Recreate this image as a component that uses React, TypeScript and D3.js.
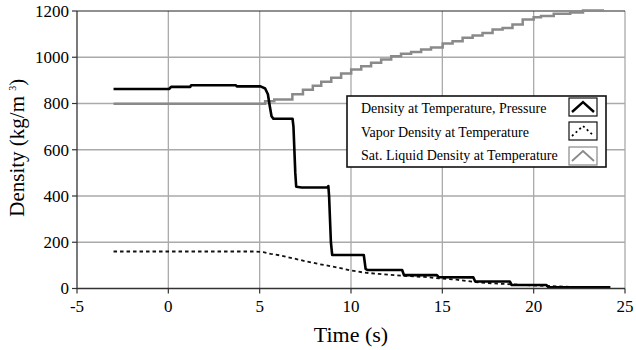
import React from "react";
import * as d3 from "d3";

const xTicks = [-5, 0, 5, 10, 15, 20, 25];
const yTicks = [0, 200, 400, 600, 800, 1000, 1200];

const densityT = [-3, 0.05, 0.15, 1.2, 1.25, 3.7, 3.75, 5.05, 5.3, 5.45, 5.55, 5.65, 5.75, 6.8, 6.85, 6.95, 7.0, 7.3, 8.7, 8.76, 8.8, 8.9, 8.97, 10.7, 10.8, 10.9, 12.8, 12.9, 14.7, 14.8, 16.7, 16.8, 18.7, 18.8, 20.7, 20.8, 24.2];
const densityV = [863, 863, 872, 872, 879, 879, 874, 874, 865, 840, 790, 745, 734, 734, 700, 500, 440, 437, 437, 443, 400, 200, 145, 145, 85, 80, 80, 58, 58, 49, 48, 30, 30, 15, 15, 6, 5];

const vaporT = [-3, 4.8, 5.2, 5.6, 6.2, 6.8, 7.5, 8.3, 9.0, 10.0, 10.7, 11.5, 12.85, 14.0, 14.8, 15.8, 16.8, 17.8, 18.8, 19.8, 20.8, 22.0, 22.8, 24.2];
const vaporV = [160, 160, 157, 150, 142, 131, 118, 105, 95, 78, 69, 63, 55, 50, 44, 38, 28, 22, 18, 14, 11, 7, 5, 5];

const satT = [-3, 5.1, 5.3, 5.8, 6.79, 7.37, 7.91, 8.37, 8.92, 9.46, 10.01, 10.56, 11.1, 11.65, 12.2, 12.74, 13.29, 13.84, 14.38, 15.02, 15.56, 16.11, 16.66, 17.2, 17.75, 18.3, 18.84, 19.4, 20.0, 20.4, 21.1, 22.0, 22.7, 23.85];
const satV = [799, 799, 810, 817, 840, 860, 877, 894, 911, 930, 947, 961, 976, 990, 1004, 1015, 1023, 1033, 1042, 1059, 1069, 1084, 1094, 1105, 1120, 1127, 1142, 1163, 1173, 1178, 1188, 1194, 1202, 1202];

const legendLabels = [
  "Density at Temperature, Pressure",
  "Vapor Density at Temperature",
  "Sat. Liquid Density at Temperature",
];

const FONT = "'Liberation Serif', 'Times New Roman', serif";

export default function App() {
  const W = 636, H = 350;
  const x = d3.scaleLinear().domain([-5, 25]).range([77, 625]);
  const y = d3.scaleLinear().domain([0, 1200]).range([288.5, 11]);

  const toPts = (ts: number[], vs: number[]) => ts.map((t, i) => [t, vs[i]] as [number, number]);
  const line = d3.line<[number, number]>().x(d => x(d[0])).y(d => y(d[1]));
  const stepLine = d3.line<[number, number]>().x(d => x(d[0])).y(d => y(d[1])).curve(d3.curveStepAfter);

  const legendX = 347, legendY = 96, legendW = 259, legendH = 71;
  const rowY = [113, 137, 160];
  const iconY = [98, 122, 147];

  return (
    <svg width={W} height={H} style={{ position: "absolute", left: 0, top: 0, background: "#fff" }} fontFamily={FONT}>
      <rect x={0} y={0} width={W} height={H} fill="#fff" />
      {/* grid */}
      {yTicks.filter(v => v > 0 && v < 1200).map(v => (
        <line key={"gy" + v} x1={x(-5)} x2={x(25)} y1={y(v)} y2={y(v)} stroke="#aaa" strokeWidth={1.3} />
      ))}
      {xTicks.filter(v => v > -5).map(v => (
        <line key={"gx" + v} x1={x(v)} x2={x(v)} y1={y(0)} y2={y(1200)} stroke="#aaa" strokeWidth={1.3} />
      ))}
      {/* top border */}
      <line x1={x(-5)} x2={x(25)} y1={y(1200)} y2={y(1200)} stroke="#222" strokeWidth={1.2} />
      {/* series */}
      <path d={stepLine(toPts(satT, satV)) || ""} fill="none" stroke="#8a8a8a" strokeWidth={2.5} />
      <path d={line(toPts(vaporT, vaporV)) || ""} fill="none" stroke="#111" strokeWidth={1.8} strokeDasharray="3.5,3" />
      <path d={line(toPts(densityT, densityV)) || ""} fill="none" stroke="#000" strokeWidth={2.6} strokeLinejoin="round" />
      {/* axes */}
      <line x1={x(-5)} x2={x(-5)} y1={y(0)} y2={y(1200)} stroke="#333" strokeWidth={1.3} />
      <line x1={x(-5)} x2={x(25)} y1={y(0)} y2={y(0)} stroke="#333" strokeWidth={1.3} />
      {yTicks.map(v => (
        <g key={"yt" + v}>
          <line x1={x(-5) - 5} x2={x(-5)} y1={y(v)} y2={y(v)} stroke="#333" strokeWidth={1.2} />
          <text x={x(-5) - 8} y={y(v)} dy="0.35em" textAnchor="end" fontSize={17} fill="#000">{v}</text>
        </g>
      ))}
      {xTicks.map(v => (
        <g key={"xt" + v}>
          <line x1={x(v)} x2={x(v)} y1={y(0)} y2={y(0) + 5} stroke="#333" strokeWidth={1.2} />
          <text x={x(v)} y={312} textAnchor="middle" fontSize={17} fill="#000">{v}</text>
        </g>
      ))}
      <text x={351} y={342} textAnchor="middle" fontSize={22} fill="#000">Time (s)</text>
      <text transform={`translate(24,${(y(0) + y(1200)) / 2 - 2}) rotate(-90)`} textAnchor="middle" fontSize={21} fill="#000">
        Density (kg/m <tspan fontSize={10} dy={-8}>3</tspan><tspan dy={8}>)</tspan>
      </text>
      {/* legend */}
      <rect x={legendX} y={legendY} width={legendW} height={legendH} fill="#fff" stroke="#111" strokeWidth={1.6} />
      {legendLabels.map((lab, i) => (
        <text key={"lg" + i} x={361} y={rowY[i]} fontSize={14} fill="#000">{lab}</text>
      ))}
      {iconY.map((iy, i) => {
        const ix = 569, iw = 28, ih = 18;
        const stroke = i === 2 ? "#888" : "#111";
        return (
          <g key={"ic" + i}>
            <rect x={ix} y={iy} width={iw} height={ih} fill="#fff" stroke={stroke} strokeWidth={1.2} />
            <path
              d={`M${ix + 3},${iy + ih - 4} L${ix + iw / 2},${iy + 4} L${ix + iw - 3},${iy + ih - 4}`}
              fill="none"
              stroke={i === 2 ? "#8a8a8a" : "#000"}
              strokeWidth={i === 0 ? 2.4 : 1.8}
              strokeDasharray={i === 1 ? "2,3" : undefined}
            />
          </g>
        );
      })}
    </svg>
  );
}
